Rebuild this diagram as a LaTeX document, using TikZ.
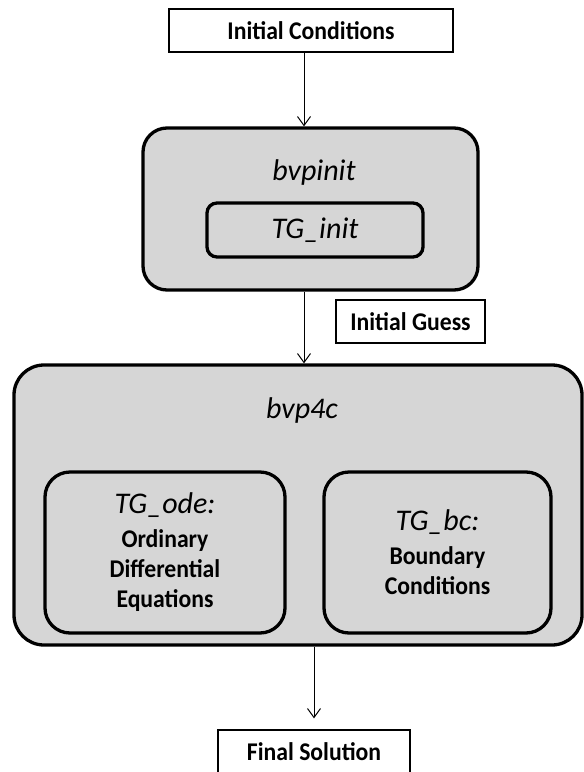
\documentclass[tikz,border=0pt]{standalone}
\usepackage{fontspec}
\setmainfont{Carlito}
\newfontfamily\condfont[FakeStretch=0.93]{Carlito}
\usetikzlibrary{arrows.meta}
\definecolor{boxgray}{RGB}{214,214,214}
\tikzset{
  plainbox/.style={draw=black, line width=1.3pt, fill=white, inner sep=0pt,
    font=\condfont\fontsize{25.5}{28}\selectfont\bfseries},
  outerbox/.style={draw=black, line width=3.3pt, fill=boxgray, inner sep=0pt},
  innerbox/.style={draw=black, line width=3.3pt, fill=boxgray, inner sep=0pt, align=center,
    font=\condfont\fontsize{25.5}{30}\selectfont\bfseries},
  itlabel/.style={inner sep=0pt, font=\fontsize{30}{34}\selectfont\itshape},
  arr/.style={draw=black, line width=1pt, -{Straight Barb[length=9pt,width=13pt]}}
}
\newcommand{\itline}[1]{{\normalfont\fontsize{30}{30}\selectfont\itshape #1}}
\begin{document}
\begin{tikzpicture}[x=1pt, y=-1pt]
\useasboundingbox (0,0) rectangle (584,772);
\clip (0,0) rectangle (584,772);
% top box
\node[plainbox, minimum width=284pt, minimum height=43pt] (ic) at (311,30.5) {Initial Conditions};
% bvpinit
\node[outerbox, rounded corners=24pt, minimum width=335pt, minimum height=162pt] (bvpinit) at (310.5,209) {};
\node[itlabel] (bvpinitlbl) at (314,172) {bvpinit};
\node[innerbox, rounded corners=10pt, minimum width=216pt, minimum height=54pt,
  font=\fontsize{30}{34}\selectfont\itshape] (tginit) at (315,230) {TG\_init};
% initial guess
\node[plainbox, minimum width=149pt, minimum height=43pt] (ig) at (410.5,321.5) {Initial Guess};
% bvp4c
\node[outerbox, rounded corners=30pt, minimum width=568pt, minimum height=280pt] (bvp) at (298,505) {};
\node[itlabel] (bvplbl) at (302,410) {bvp4c};
\node[innerbox, rounded corners=25pt, minimum width=240pt, minimum height=161pt] (ode) at (165,552.5)
  {\itline{TG\_ode:}\\[4pt] Ordinary\\ Differential\\ Equations};
\node[innerbox, rounded corners=25pt, minimum width=227pt, minimum height=161pt] (bc) at (437.5,552.5)
  {\itline{TG\_bc:}\\[4pt] Boundary\\ Conditions};
% final
\node[plainbox, minimum width=192pt, minimum height=44pt] (fs) at (314,752) {Final Solution};
% connectors
\draw[arr] ([xshift=-7pt]ic.south) -- ([xshift=-7pt]ic.south |- bvpinit.north);
\draw[arr] ([xshift=-6.5pt]bvpinit.south) -- ([xshift=-6.5pt]bvpinit.south |- bvp.north);
\draw[arr] ([xshift=16pt]bvp.south) -- ([xshift=16pt,yshift=11pt]bvp.south |- fs.north);
\end{tikzpicture}
\end{document}
